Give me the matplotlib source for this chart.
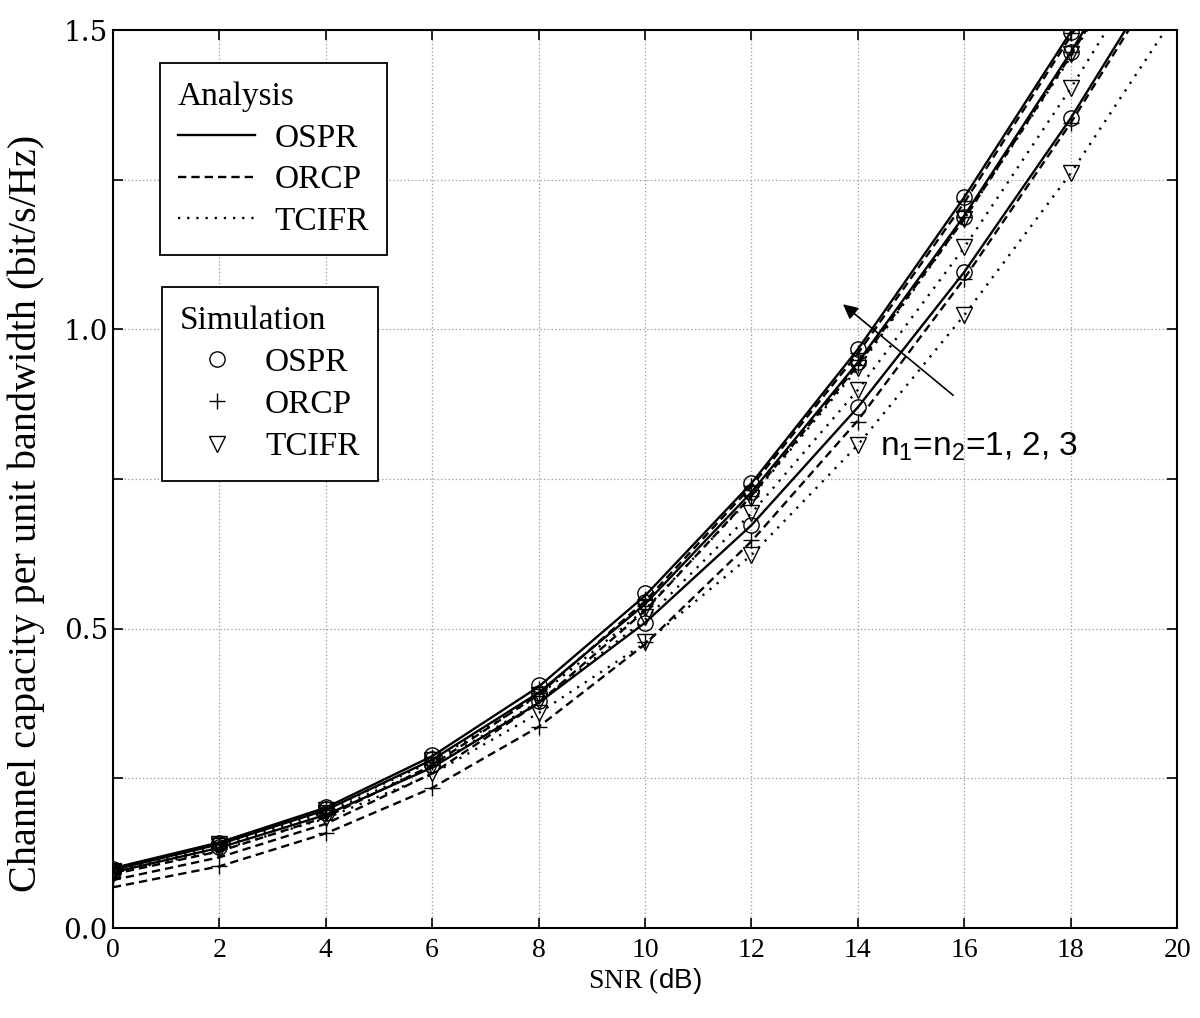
import matplotlib
matplotlib.use("Agg")
import matplotlib.pyplot as plt
from matplotlib.lines import Line2D

plt.rcParams["font.family"] = ["Liberation Serif", "DejaVu Serif"]
plt.rcParams["mathtext.fontset"] = "custom"
plt.rcParams["mathtext.rm"] = "Liberation Sans"
plt.rcParams["mathtext.sf"] = "Liberation Sans"
plt.rcParams["lines.scale_dashes"] = False

# analysis curves, SNR 0..20 dB (values above 1.5 run off the top)
snr = [0, 2, 4, 6, 8, 10, 12, 14, 16, 18, 20]
ospr_n3 = [0.100, 0.143, 0.201, 0.287, 0.403, 0.555, 0.743, 0.967, 1.221, 1.497, 1.79]
ospr_n2 = [0.097, 0.140, 0.197, 0.281, 0.393, 0.541, 0.728, 0.945, 1.190, 1.463, 1.76]
ospr_n1 = [0.093, 0.134, 0.189, 0.268, 0.376, 0.510, 0.673, 0.870, 1.096, 1.353, 1.64]
orcp_n3 = [0.090, 0.128, 0.185, 0.272, 0.390, 0.546, 0.738, 0.960, 1.212, 1.490, 1.78]
orcp_n2 = [0.080, 0.118, 0.174, 0.258, 0.376, 0.530, 0.722, 0.940, 1.185, 1.458, 1.75]
orcp_n1 = [0.068, 0.103, 0.158, 0.234, 0.336, 0.474, 0.646, 0.848, 1.085, 1.345, 1.63]
tcifr_n3 = [0.097, 0.140, 0.197, 0.278, 0.388, 0.532, 0.720, 0.935, 1.185, 1.455, 1.75]
tcifr_n2 = [0.095, 0.137, 0.193, 0.270, 0.378, 0.515, 0.693, 0.899, 1.137, 1.403, 1.69]
tcifr_n1 = [0.092, 0.130, 0.183, 0.257, 0.359, 0.476, 0.623, 0.807, 1.024, 1.261, 1.53]

# simulation points, SNR 0..18 dB
snr_sim = [0, 2, 4, 6, 8, 10, 12, 14, 16, 18]
sim_ospr_n3 = [0.098, 0.142, 0.202, 0.289, 0.406, 0.559, 0.743, 0.967, 1.221, 1.497]
sim_ospr_n2 = [0.096, 0.140, 0.198, 0.282, 0.392, 0.545, 0.728, 0.945, 1.188, 1.463]
sim_ospr_n1 = [0.093, 0.136, 0.192, 0.272, 0.380, 0.509, 0.673, 0.870, 1.096, 1.353]
sim_orcp_n3 = [0.095, 0.140, 0.200, 0.286, 0.400, 0.550, 0.738, 0.960, 1.215, 1.495]
sim_orcp_n2 = [0.090, 0.133, 0.192, 0.278, 0.388, 0.538, 0.722, 0.940, 1.188, 1.463]
sim_orcp_n1 = [0.085, 0.103, 0.159, 0.234, 0.336, 0.478, 0.648, 0.845, 1.085, 1.345]
sim_tcifr_n3 = [0.095, 0.140, 0.197, 0.280, 0.390, 0.535, 0.718, 0.935, 1.185, 1.460]
sim_tcifr_n2 = [0.093, 0.137, 0.192, 0.270, 0.380, 0.520, 0.693, 0.899, 1.137, 1.403]
sim_tcifr_n1 = [0.090, 0.130, 0.183, 0.259, 0.359, 0.478, 0.623, 0.807, 1.024, 1.261]

schemes = ["OSPR", "ORCP", "TCIFR"]
annot_text = "n$_1$=n$_2$=1, 2, 3"
arrow_tail = (15.79, 0.89)
arrow_head = (13.72, 1.042)
text_pos = (14.42, 0.79)

styles = {
    "OSPR": dict(linestyle="-"),
    "ORCP": dict(dashes=(6, 3.6)),
    "TCIFR": dict(dashes=(1.6, 5)),
}
markers = {"OSPR": "o", "ORCP": "+", "TCIFR": "v"}

analysis = {
    "OSPR": [ospr_n1, ospr_n2, ospr_n3],
    "ORCP": [orcp_n1, orcp_n2, orcp_n3],
    "TCIFR": [tcifr_n1, tcifr_n2, tcifr_n3],
}
simulation = {
    "OSPR": [sim_ospr_n1, sim_ospr_n2, sim_ospr_n3],
    "ORCP": [sim_orcp_n1, sim_orcp_n2, sim_orcp_n3],
    "TCIFR": [sim_tcifr_n1, sim_tcifr_n2, sim_tcifr_n3],
}

fig = plt.figure(figsize=(12, 10.18), dpi=100)
ax = fig.add_axes([0.094, 0.0884, 0.887, 0.882])

for s in schemes:
    for y in analysis[s]:
        ax.plot(snr, y, color="k", lw=1.7, **styles[s])
    for y in simulation[s]:
        ax.plot(snr_sim, y, ls="none", marker=markers[s], ms=11,
                mfc="none", mec="k", mew=1.0)

ax.set_xlim(0, 20)
ax.set_ylim(0, 1.5)
ax.set_xticks(range(0, 21, 2))
ax.set_xticklabels([str(v) for v in range(0, 21, 2)], fontsize=20)
yt = [0, 0.25, 0.5, 0.75, 1.0, 1.25, 1.5]
ax.set_yticks(yt)
ax.set_yticklabels(["%.1f" % v if i % 2 == 0 else "" for i, v in enumerate(yt)],
                   family="DejaVu Serif", fontsize=20)
ax.tick_params(direction="in", length=7, width=1.2, top=True, right=True)
ax.tick_params(axis="x", pad=7)
ax.grid(True, linestyle=":", color="#a0a0a0", lw=0.9)
for sp in ax.spines.values():
    sp.set_linewidth(1.5)

ax.set_xlabel(r"SNR ($\mathsf{dB)}$", fontsize=20, labelpad=2)
ax.set_ylabel("Channel capacity per unit bandwidth (bit/s/Hz)", fontsize=29)
ax.yaxis.set_label_coords(-0.064, 0.462)

# legends
h1 = [Line2D([], [], color="k", lw=1.7, **styles[s]) for s in schemes]
leg1 = ax.legend(h1, schemes, title="Analysis", loc="upper left",
                 bbox_to_anchor=(0.044, 0.963), alignment="left",
                 fontsize=24, title_fontsize=24, frameon=True, fancybox=False,
                 edgecolor="k", framealpha=1, handlelength=2.3,
                 handletextpad=0.6, labelspacing=0.33, borderpad=0.55,
                 borderaxespad=0)
leg1.get_frame().set_linewidth(1.3)
ax.add_artist(leg1)

h2 = [Line2D([], [], ls="none", marker=markers[s], ms=11, mfc="none",
             mec="k", mew=1.0) for s in schemes]
leg2 = ax.legend(h2, schemes, title="Simulation", loc="upper left",
                 bbox_to_anchor=(0.046, 0.714), alignment="left",
                 fontsize=24, title_fontsize=24, frameon=True, fancybox=False,
                 edgecolor="k", framealpha=1, handlelength=2.2,
                 handletextpad=0.35, labelspacing=0.35, borderpad=0.55,
                 borderaxespad=0)
leg2.get_frame().set_linewidth(1.3)

ax.annotate("", xy=arrow_head, xytext=arrow_tail,
            arrowprops=dict(arrowstyle="-|>", color="k", lw=1.2,
                            mutation_scale=22, shrinkA=0, shrinkB=0))
ax.text(text_pos[0], text_pos[1], annot_text, family="Liberation Sans",
        fontsize=24, va="baseline")

fig.savefig("out.png", dpi=100)
